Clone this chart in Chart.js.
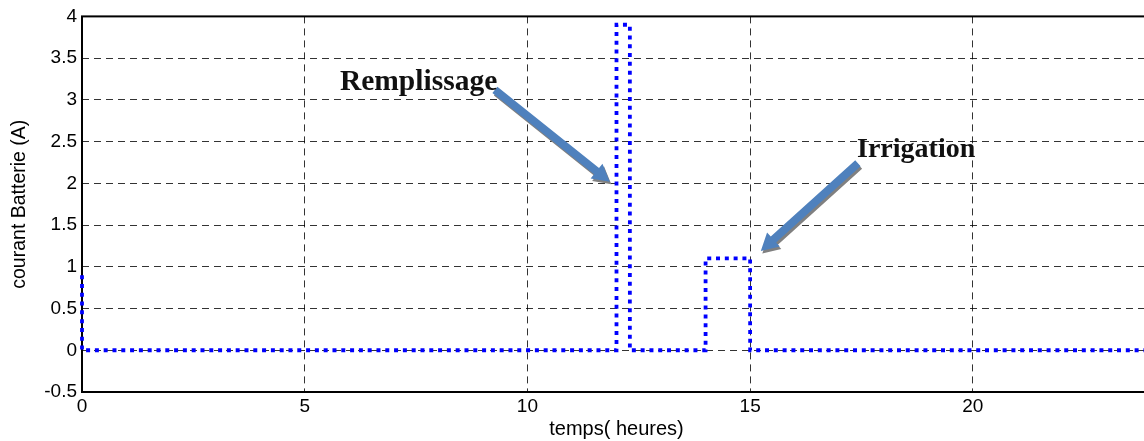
<!DOCTYPE html>
<html>
<head>
<meta charset="utf-8">
<title>courant Batterie</title>
<script src="https://cdn.jsdelivr.net/npm/chart.js@4/dist/chart.umd.min.js"></script>
<style>
  html, body { margin: 0; padding: 0; background: #ffffff; overflow: hidden; }
  #wrap { width: 1144px; height: 441px; overflow: hidden; position: relative; }
  canvas { display: block; }
</style>
</head>
<body>
<div id="wrap"><canvas id="c" width="1160" height="441"></canvas></div>
<script>
// Battery current over the day (hours, amperes) as a stepped trace
const timeHours = [0, 0, 12, 12, 12.3, 12.3, 14, 14, 15, 15, 24];
const currentA  = [0.9, 0, 0, 3.9, 3.9, 0, 0, 1.1, 1.1, 0, 0];

// Axis ticks
const xTicks = [0, 5, 10, 15, 20];
const yTicks = [-0.5, 0, 0.5, 1, 1.5, 2, 2.5, 3, 3.5, 4];

// Callout labels and their arrows, in data units (hours, amperes)
const calloutText  = ['Remplissage', 'Irrigation'];
const calloutSize  = [29.5, 28];
const calloutTextX = [5.79, 17.4];
const calloutTextY = [3.12, 2.32];
const arrowFromX   = [9.27, 17.42];
const arrowFromY   = [3.12, 2.24];
const arrowToX     = [11.85, 15.24];
const arrowToY     = [2.02, 1.19];

const points = timeHours.map((t, i) => ({ x: t, y: currentA[i] }));

// Solid frame around the plot area, drawn beneath the trace
const framePlugin = {
  id: 'frame',
  beforeDatasetsDraw(chart) {
    const { ctx, chartArea: a } = chart;
    ctx.save();
    ctx.strokeStyle = '#000';
    ctx.lineWidth = 2;
    ctx.setLineDash([]);
    ctx.strokeRect(a.left, a.top, a.right - a.left, a.bottom - a.top);
    ctx.restore();
  }
};

function drawArrow(ctx, x0, y0, x1, y1, fill) {
  const dx = x1 - x0, dy = y1 - y0;
  const len = Math.hypot(dx, dy);
  const ux = dx / len, uy = dy / len;
  const nx = -uy, ny = ux;
  const shaftHalf = 4, headHalf = 9.5, headLen = 17;
  const bx = x1 - ux * headLen, by = y1 - uy * headLen;
  ctx.beginPath();
  ctx.moveTo(x0 + nx * shaftHalf, y0 + ny * shaftHalf);
  ctx.lineTo(bx + nx * shaftHalf, by + ny * shaftHalf);
  ctx.lineTo(bx + nx * headHalf, by + ny * headHalf);
  ctx.lineTo(x1, y1);
  ctx.lineTo(bx - nx * headHalf, by - ny * headHalf);
  ctx.lineTo(bx - nx * shaftHalf, by - ny * shaftHalf);
  ctx.lineTo(x0 - nx * shaftHalf, y0 - ny * shaftHalf);
  ctx.closePath();
  ctx.fillStyle = fill;
  ctx.fill();
}

// Annotated callouts with blue block arrows and a grey drop shadow
const calloutPlugin = {
  id: 'callouts',
  afterDatasetsDraw(chart) {
    const { ctx, scales: { x, y } } = chart;
    ctx.save();
    for (let i = 0; i < calloutText.length; i++) {
      const x0 = x.getPixelForValue(arrowFromX[i]);
      const y0 = y.getPixelForValue(arrowFromY[i]);
      const x1 = x.getPixelForValue(arrowToX[i]);
      const y1 = y.getPixelForValue(arrowToY[i]);
      ctx.save();
      ctx.translate(1.5, 2.5);
      drawArrow(ctx, x0, y0, x1, y1, '#808080');
      ctx.restore();
      drawArrow(ctx, x0, y0, x1, y1, '#4f81bd');

      ctx.font = 'bold ' + calloutSize[i] + 'px "Liberation Serif", "DejaVu Serif", serif';
      ctx.fillStyle = '#111';
      ctx.textAlign = 'left';
      ctx.textBaseline = 'alphabetic';
      ctx.fillText(calloutText[i], x.getPixelForValue(calloutTextX[i]), y.getPixelForValue(calloutTextY[i]));
    }
    ctx.restore();
  }
};

const tickFont  = { family: '"Liberation Sans", Arial, sans-serif', size: 19 };
const titleFont = { family: '"Liberation Sans", Arial, sans-serif', size: 20 };

new Chart(document.getElementById('c'), {
  type: 'scatter',
  data: {
    datasets: [{
      data: points,
      showLine: true,
      borderColor: '#0000ff',
      borderWidth: 3.8,
      borderDash: [4, 4.8],
      borderCapStyle: 'butt',
      pointRadius: 0,
      tension: 0,
      fill: false,
      clip: 4
    }]
  },
  options: {
    responsive: false,
    animation: false,
    devicePixelRatio: 1,
    layout: { padding: { top: 14, right: 9, left: 0, bottom: 0 } },
    plugins: { legend: { display: false }, tooltip: { enabled: false } },
    scales: {
      x: {
        type: 'linear',
        min: 0,
        max: 24,
        afterBuildTicks(scale) { scale.ticks = xTicks.map(v => ({ value: v })); },
        afterFit(scale) { scale.height = 49; },
        ticks: {
          color: '#000',
          font: tickFont,
          padding: 3,
          maxRotation: 0,
          callback: v => String(v)
        },
        grid: { color: 'rgba(0,0,0,0.8)', lineWidth: 1, drawTicks: false },
        border: { display: false, dash: [7, 5] },
        title: {
          display: true,
          text: 'temps( heures)',
          color: '#000',
          font: titleFont,
          padding: { top: 0, bottom: 0 }
        }
      },
      y: {
        type: 'linear',
        min: -0.5,
        max: 4,
        afterBuildTicks(scale) { scale.ticks = yTicks.map(v => ({ value: v })); },
        afterFit(scale) { scale.width = 82; },
        ticks: {
          color: '#000',
          font: tickFont,
          padding: 5,
          callback: v => String(v)
        },
        grid: { color: 'rgba(0,0,0,0.8)', lineWidth: 1, drawTicks: false },
        border: { display: false, dash: [7, 5] },
        title: {
          display: true,
          text: 'courant Batterie (A)',
          color: '#000',
          font: { family: '"Liberation Sans", Arial, sans-serif', size: 19.5 },
          padding: { top: 8, bottom: 0 }
        }
      }
    }
  },
  plugins: [framePlugin, calloutPlugin]
});
</script>
</body>
</html>
